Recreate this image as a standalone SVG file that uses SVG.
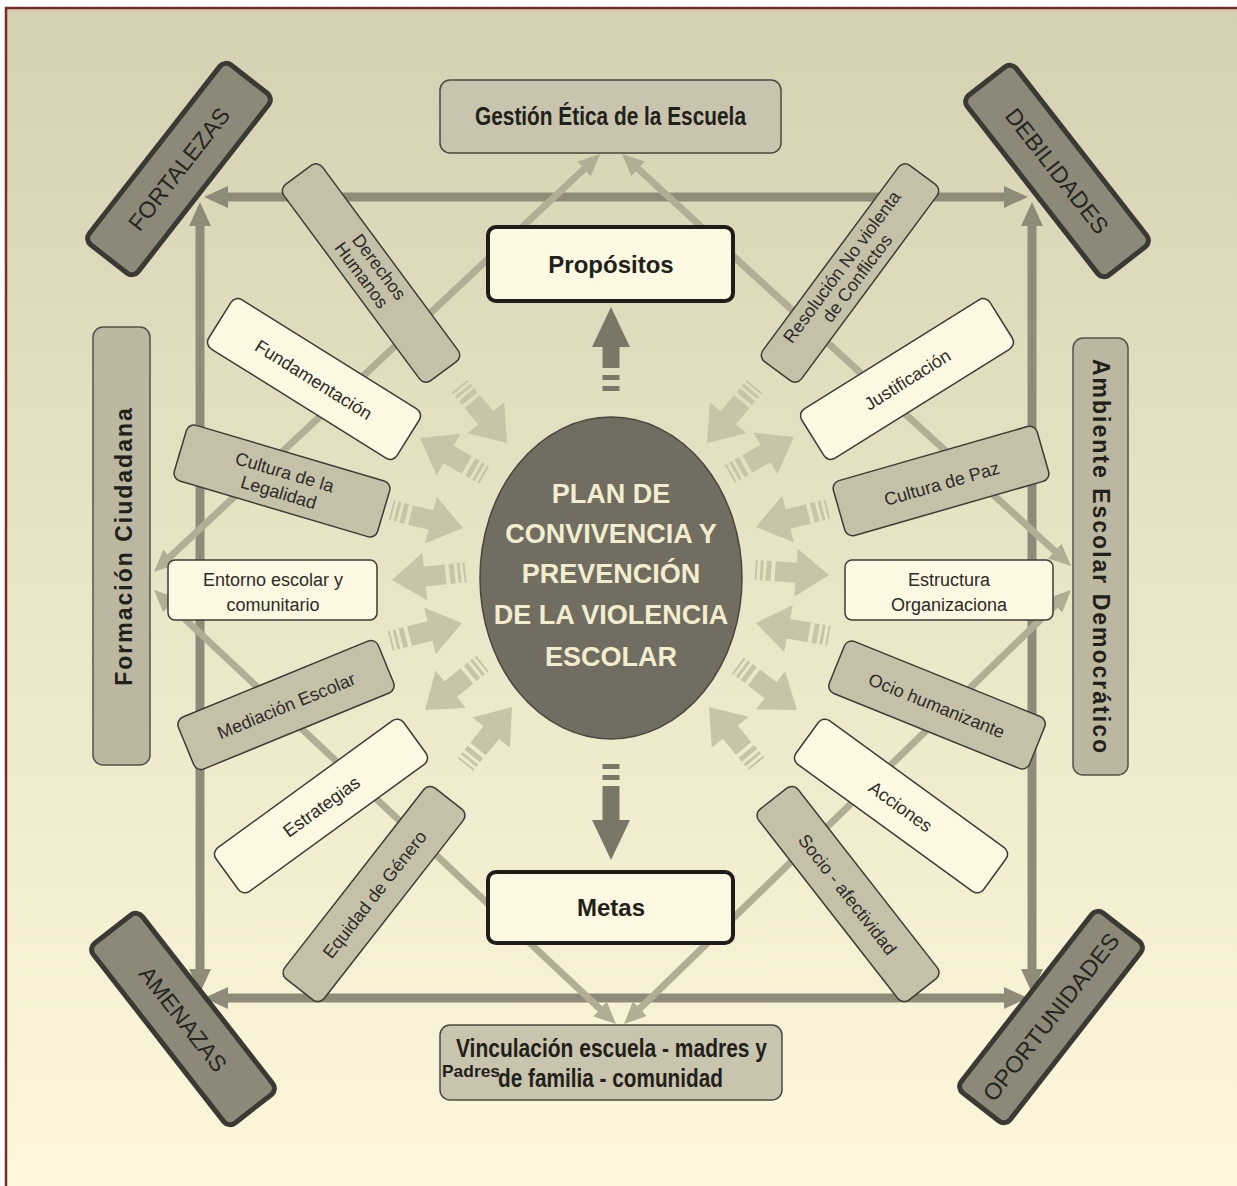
<svg xmlns="http://www.w3.org/2000/svg" xmlns:xlink="http://www.w3.org/1999/xlink" width="1237" height="1186" viewBox="0 0 1237 1186">
<defs>
<linearGradient id="bg" x1="0" y1="0" x2="0" y2="1">
<stop offset="0" stop-color="#d6d0b2"/>
<stop offset="0.5" stop-color="#ebe5c8"/>
<stop offset="1" stop-color="#fef7db"/>
</linearGradient>
<marker id="ah" viewBox="0 0 24 22" refX="2" refY="11" markerWidth="24" markerHeight="22" markerUnits="userSpaceOnUse" orient="auto-start-reverse">
<path d="M0,0 L24,11 L0,22 Z" fill="#8f8b79"/>
</marker>
<marker id="ad" viewBox="0 0 22 20" refX="2" refY="10" markerWidth="22" markerHeight="20" markerUnits="userSpaceOnUse" orient="auto-start-reverse">
<path d="M0,0 L22,10 L0,20 Z" fill="#b3ad96"/>
</marker>
<path id="ra" d="M0,0 L-33,-24 L-33,-10 L-54,-10 L-54,10 L-33,10 L-33,24 Z M-58,-10 h-5 v20 h5 Z M-66,-10 h-3 v20 h3 Z M-72,-10 h-2 v20 h2 Z"/>
<style>
.sq{stroke:#8f8b79;stroke-width:9;fill:none}
.dg{stroke:#b3ad96;stroke-width:7;fill:none}
.ra{fill:#c9c3a8}
.va{fill:#7b7767}
.gb{fill:#c5c0a8;stroke:#3d3b34;stroke-width:1.5}
.cb{fill:#fdf8e1;stroke:#3d3b34;stroke-width:1.5}
.gt{fill:#c9c4ae;stroke:#4a4840;stroke-width:1.5}
.vt{fill:#bcb7a0;stroke:#55524a;stroke-width:1.5}
.kb{fill:#fdf8e1;stroke:#1e1d1a;stroke-width:4}
.corner{fill:#8d8978;stroke:#3b3933;stroke-width:5}
.t{font-family:"Liberation Sans",Arial,sans-serif;font-size:18px;fill:#2c2b27;text-anchor:middle}
.ct{font-family:"Liberation Sans",Arial,sans-serif;font-size:23px;fill:#26251f;text-anchor:middle}
.b{font-family:"Liberation Sans",Arial,sans-serif;font-weight:bold;fill:#222119}
.et{font-family:"Liberation Sans",Arial,sans-serif;font-weight:bold;font-size:27px;fill:#f3edd0;text-anchor:middle}
.vx{font-family:"Liberation Sans",Arial,sans-serif;font-weight:bold;font-size:23px;letter-spacing:2px;fill:#222119;text-anchor:middle}
</style>
</defs>
<rect x="0" y="0" width="1237" height="1186" fill="#ffffff"/>
<rect x="6" y="8" width="1231" height="1178" fill="url(#bg)"/>
<path d="M6,1186 L6,8 L1237,8" fill="none" stroke="#7d2a2a" stroke-width="2.5"/>

<g id="connectors">
<line class="sq" x1="226" y1="197" x2="1006" y2="197" marker-start="url(#ah)" marker-end="url(#ah)"/>
<line class="sq" x1="226" y1="998" x2="1006" y2="998" marker-start="url(#ah)" marker-end="url(#ah)"/>
<line class="sq" x1="200" y1="224" x2="200" y2="971" marker-start="url(#ah)" marker-end="url(#ah)"/>
<line class="sq" x1="1032" y1="224" x2="1032" y2="971" marker-start="url(#ah)" marker-end="url(#ah)"/>
<line class="dg" x1="585.4" y1="167.7" x2="168.6" y2="558.3" marker-start="url(#ad)" marker-end="url(#ad)"/>
<line class="dg" x1="636.7" y1="167.5" x2="1056.3" y2="552.5" marker-start="url(#ad)" marker-end="url(#ad)"/>
<line class="dg" x1="168.6" y1="603.7" x2="601.4" y2="1010.3" marker-start="url(#ad)" marker-end="url(#ad)"/>
<line class="dg" x1="1056.7" y1="603.9" x2="638.4" y2="1010.1" marker-start="url(#ad)" marker-end="url(#ad)"/>
<use xlink:href="#ra" class="ra" transform="translate(507,443) rotate(50)"/>
<use xlink:href="#ra" class="ra" transform="translate(420,438) rotate(210)"/>
<use xlink:href="#ra" class="ra" transform="translate(463,528) rotate(14)"/>
<use xlink:href="#ra" class="ra" transform="translate(392,580) rotate(174)"/>
<use xlink:href="#ra" class="ra" transform="translate(462,623) rotate(-14)"/>
<use xlink:href="#ra" class="ra" transform="translate(425,710) rotate(141)"/>
<use xlink:href="#ra" class="ra" transform="translate(512,707) rotate(-51)"/>
<use xlink:href="#ra" class="ra" transform="translate(707,443) rotate(130)"/>
<use xlink:href="#ra" class="ra" transform="translate(794,437) rotate(-30)"/>
<use xlink:href="#ra" class="ra" transform="translate(756,527) rotate(166)"/>
<use xlink:href="#ra" class="ra" transform="translate(829,575) rotate(4)"/>
<use xlink:href="#ra" class="ra" transform="translate(756,623) rotate(190)"/>
<use xlink:href="#ra" class="ra" transform="translate(797,710) rotate(37)"/>
<use xlink:href="#ra" class="ra" transform="translate(709,707) rotate(230)"/>
<path class="va" d="M611,307 L630,347 L619.5,347 L619.5,368 L602.5,368 L602.5,347 L592,347 Z"/>
<rect class="va" x="602.5" y="375" width="17" height="5"/>
<rect class="va" x="602.5" y="386" width="17" height="5"/>
<rect class="va" x="602.5" y="764" width="17" height="5"/>
<rect class="va" x="602.5" y="775" width="17" height="5"/>
<path class="va" d="M602.5,786 L619.5,786 L619.5,820 L630,820 L611,860 L592,820 L602.5,820 Z"/>
</g>

<g id="plan">
<ellipse cx="611" cy="578" rx="131" ry="161" fill="#716d61" stroke="#4a473f" stroke-width="1.5"/>
<text class="et" x="611" y="503">PLAN DE</text>
<text class="et" x="611" y="543">CONVIVENCIA Y</text>
<text class="et" x="611" y="583">PREVENCIÓN</text>
<text class="et" x="611" y="624">DE LA VIOLENCIA</text>
<text class="et" x="611" y="666">ESCOLAR</text>
</g>

<g id="gestion">
<rect class="gt" x="440" y="80" width="341" height="73" rx="10"/>
<text class="b" x="475" y="125" font-size="25" textLength="271" lengthAdjust="spacingAndGlyphs">Gestión Ética de la Escuela</text>
</g>
<g id="propositos">
<rect class="kb" x="488" y="227" width="245" height="74" rx="8"/>
<text class="b" x="611" y="273" font-size="24" text-anchor="middle">Propósitos</text>
</g>
<g id="metas">
<rect class="kb" x="488" y="872" width="245" height="71" rx="8"/>
<text class="b" x="611" y="916" font-size="24" text-anchor="middle">Metas</text>
</g>
<g id="vinculacion">
<rect class="gt" x="440" y="1025" width="342" height="75" rx="10"/>
<text class="b" x="456" y="1057" font-size="26" textLength="311" lengthAdjust="spacingAndGlyphs">Vinculación escuela - madres y</text>
<text class="b" x="498" y="1087" font-size="26" textLength="225" lengthAdjust="spacingAndGlyphs">de familia - comunidad</text>
<text class="b" x="442" y="1077" font-size="17" textLength="58" lengthAdjust="spacingAndGlyphs">Padres</text>
</g>
<g id="formacion">
<rect class="vt" x="93" y="327" width="57" height="438" rx="10"/>
<text class="vx" transform="translate(132,546) rotate(-90)">Formación Ciudadana</text>
</g>
<g id="ambiente">
<rect class="vt" x="1073" y="338" width="55" height="437" rx="10"/>
<text class="vx" transform="translate(1093,557) rotate(90)">Ambiente Escolar Democrático</text>
</g>

<g id="fortalezas" transform="translate(179,169) rotate(-52)">
<rect class="corner" x="-114" y="-31" width="228" height="62" rx="8"/>
<text class="ct" x="0" y="8">FORTALEZAS</text>
</g>
<g id="debilidades" transform="translate(1057,171) rotate(52)">
<rect class="corner" x="-114" y="-31" width="228" height="62" rx="8"/>
<text class="ct" x="0" y="8">DEBILIDADES</text>
</g>
<g id="amenazas" transform="translate(183,1019) rotate(52)">
<rect class="corner" x="-114" y="-31" width="228" height="62" rx="8"/>
<text class="ct" x="0" y="8">AMENAZAS</text>
</g>
<g id="oportunidades" transform="translate(1051,1017) rotate(-52)">
<rect class="corner" x="-114" y="-31" width="228" height="62" rx="8"/>
<text class="ct" x="0" y="8" textLength="206" lengthAdjust="spacingAndGlyphs">OPORTUNIDADES</text>
</g>

<g id="derechos" transform="translate(371,273) rotate(53.5)">
<rect class="gb" x="-122" y="-24" width="244" height="48" rx="8"/>
<text class="t" x="0" y="-4" font-size="17">Derechos</text>
<text class="t" x="-4" y="15" font-size="17">Humanos</text>
</g>
<g id="fundamentacion" transform="translate(314,379) rotate(32)">
<rect class="cb" x="-111" y="-29" width="222" height="58" rx="8"/>
<text class="t" x="0" y="7" font-size="19">Fundamentación</text>
</g>
<g id="legalidad" transform="translate(282,481) rotate(16.5)">
<rect class="gb" x="-106" y="-29" width="212" height="58" rx="8"/>
<text class="t" x="0" y="-3">Cultura de la</text>
<text class="t" x="0" y="18">Legalidad</text>
</g>
<g id="entorno">
<rect class="cb" x="168" y="560" width="209" height="60" rx="7"/>
<text class="t" x="273" y="586" font-size="19">Entorno escolar y</text>
<text class="t" x="273" y="611" font-size="19">comunitario</text>
</g>
<g id="mediacion" transform="translate(286,705) rotate(-22.3)">
<rect class="gb" x="-108" y="-28" width="216" height="56" rx="8"/>
<text class="t" x="0" y="7" font-size="19">Mediación Escolar</text>
</g>
<g id="estrategias" transform="translate(321,806) rotate(-36)">
<rect class="cb" x="-116" y="-27" width="232" height="54" rx="8"/>
<text class="t" x="0" y="7" font-size="19">Estrategias</text>
</g>
<g id="equidad" transform="translate(374,894) rotate(-52)">
<rect class="gb" x="-121" y="-25" width="242" height="50" rx="8"/>
<text class="t" x="0" y="7">Equidad de Género</text>
</g>

<g id="resolucion" transform="translate(850,273) rotate(-53.5)">
<rect class="gb" x="-122" y="-24" width="244" height="48" rx="8"/>
<text class="t" x="0" y="-4" font-size="17">Resolución No violenta</text>
<text class="t" x="0" y="15" font-size="17">de Conflictos</text>
</g>
<g id="justificacion" transform="translate(907,379) rotate(-32)">
<rect class="cb" x="-111" y="-29" width="222" height="58" rx="8"/>
<text class="t" x="0" y="7" font-size="19">Justificación</text>
</g>
<g id="paz" transform="translate(941,481) rotate(-16)">
<rect class="gb" x="-106" y="-28.5" width="212" height="57" rx="8"/>
<text class="t" x="0" y="9" font-size="19">Cultura de Paz</text>
</g>
<g id="estructura">
<rect class="cb" x="845" y="560" width="208" height="60" rx="7"/>
<text class="t" x="949" y="586" font-size="19">Estructura</text>
<text class="t" x="949" y="611" font-size="19">Organizaciona</text>
</g>
<g id="ocio" transform="translate(937,705) rotate(22)">
<rect class="gb" x="-108" y="-28" width="216" height="56" rx="8"/>
<text class="t" x="0" y="7" font-size="19">Ocio humanizante</text>
</g>
<g id="acciones" transform="translate(901,806) rotate(36)">
<rect class="cb" x="-116" y="-27" width="232" height="54" rx="8"/>
<text class="t" x="0" y="7" font-size="19">Acciones</text>
</g>
<g id="socio" transform="translate(848,894) rotate(52)">
<rect class="gb" x="-121" y="-25" width="242" height="50" rx="8"/>
<text class="t" x="0" y="7">Socio - afectividad</text>
</g>
</svg>
